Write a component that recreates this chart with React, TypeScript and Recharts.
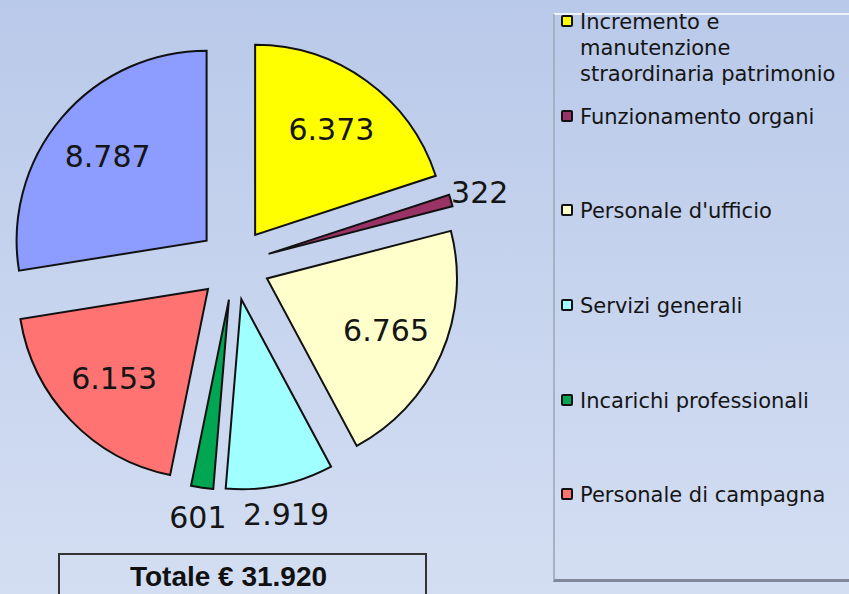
import { PieChart, Pie, Cell, Sector, Legend } from 'recharts'

const categories = [
  'Incremento e manutenzione straordinaria patrimonio',
  'Funzionamento organi',
  "Personale d'ufficio",
  'Servizi generali',
  'Incarichi professionali',
  'Personale di campagna',
  'Altre spese',
]
const values = [6373, 322, 6765, 2919, 601, 6153, 8787]
const colors = ['#ffff00', '#993366', '#ffffcc', '#a0ffff', '#00a651', '#ff7373', '#8c9cff']
// the reference legend shows only the first six entries, in data order
const legendNames = categories.slice(0, 6)
const totalLabel = 'Totale € 31.920'

const data = categories.map((name, i) => ({ name, value: values[i] }))

const EXPLODE = 36
const RAD = Math.PI / 180
const FONT = '"DejaVu Sans", sans-serif'

const fmt = (v: number) => String(v).replace(/\B(?=(\d{3})+(?!\d))/g, '.')

function ExplodedSlice(props: any) {
  const { cx, cy, midAngle } = props
  const dx = EXPLODE * Math.cos(-midAngle * RAD)
  const dy = EXPLODE * Math.sin(-midAngle * RAD)
  return <Sector {...props} cx={cx + dx} cy={cy + dy} />
}

function renderLabel(p: any) {
  const { cx, cy, midAngle, percent, value } = p
  const r = percent > 0.1 ? EXPLODE + 130 : EXPLODE + 220
  const x = cx + r * Math.cos(-midAngle * RAD)
  const y = cy + r * Math.sin(-midAngle * RAD)
  return (
    <text x={x} y={y} textAnchor="middle" dominantBaseline="central"
      fill="#151515" fontSize={30} fontFamily={FONT}>
      {fmt(value)}
    </text>
  )
}

function LegendBox(props: any) {
  const payload = props.payload || []
  const items = legendNames.filter(n => payload.length === 0 || payload.some((e: any) => e.value === n))
  return (
    <div style={legendBoxStyle}>
      <div style={{ marginTop: -6 }}>
        {items.map(name => (
          <div key={name} style={{ display: 'flex', alignItems: 'flex-start', height: 94.7 }}>
            <span style={{
              width: 12, height: 12, boxSizing: 'border-box', marginLeft: 6, marginTop: 6, marginRight: 7,
              flexShrink: 0, border: '2px solid #111', borderRadius: 2,
              background: colors[categories.indexOf(name)],
            }} />
            <span style={{ maxWidth: 262 }}>{name}</span>
          </div>
        ))}
      </div>
    </div>
  )
}

export default function App() {
  return (
    <div style={pageStyle}>
      <PieChart width={849} height={594} margin={{ top: 0, right: 0, bottom: 0, left: 0 }}>
        <Pie
          data={data}
          dataKey="value"
          nameKey="name"
          cx={234}
          cy={264}
          outerRadius={190}
          startAngle={90}
          endAngle={-270}
          stroke="#111"
          strokeWidth={2}
          shape={ExplodedSlice}
          label={renderLabel}
          labelLine={false}
          isAnimationActive={false}
        >
          {data.map((d, i) => <Cell key={d.name} fill={colors[i]} />)}
        </Pie>
        <Legend
          layout="vertical"
          align="right"
          verticalAlign="top"
          content={LegendBox}
          wrapperStyle={{ left: 553, top: 13, width: 296, height: 569 }}
        />
      </PieChart>
      <div style={totalStyle}>{totalLabel}</div>
    </div>
  )
}

const pageStyle: any = {
  position: 'absolute', left: 0, top: 0, width: 849, height: 594, overflow: 'hidden',
  background: 'linear-gradient(180deg, #b9c9e9 0%, #c7d4ee 50%, #d3def2 100%)',
}

const legendBoxStyle: any = {
  width: 296, height: 569, boxSizing: 'border-box',
  borderLeft: '2px solid #a7b1c4', borderTop: '2px solid #eef2fa', borderBottom: '3px solid #7f8799',
  fontFamily: FONT, fontSize: 21, lineHeight: '26px', color: '#151515',
}

const totalStyle: any = {
  position: 'absolute', left: 58, top: 553, width: 369, height: 60, boxSizing: 'border-box',
  border: '2px solid #333', textAlign: 'center', paddingTop: 6, paddingRight: 28,
  fontFamily: '"Liberation Sans", Arial, sans-serif', fontWeight: 'bold', fontSize: 28, color: '#111',
}
